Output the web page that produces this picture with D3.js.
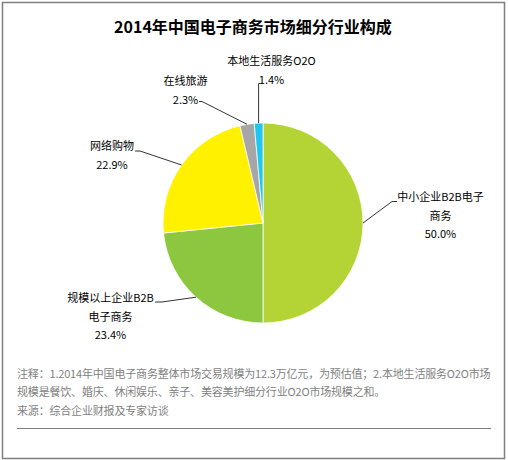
<!DOCTYPE html>
<html>
<head>
<meta charset="utf-8">
<script src="https://cdn.jsdelivr.net/npm/d3@7/dist/d3.min.js"></script>
<style>
  body { margin: 0; background: #fff; }
  svg { display: block; }
  text { font-family: "Noto Sans CJK SC", "Noto Sans", sans-serif; }
</style>
</head>
<body>
<div id="chart"></div>
<script>
// chart data
var categories = ["中小企业B2B电子商务", "规模以上企业B2B电子商务", "网络购物", "在线旅游", "本地生活服务O2O"];
var shares = [50.0, 23.4, 22.9, 2.3, 1.4];
var labelLines = [["中小企业B2B电子", "商务"], ["规模以上企业B2B", "电子商务"], ["网络购物"], ["在线旅游"], ["本地生活服务O2O"]];
var sliceColors = ["#b4d334", "#8dc63f", "#fff100", "#a6a6a6", "#20c5f0"];

var titleText = "2014年中国电子商务市场细分行业构成";
var noteLines = [
    "注释：1.2014年中国电子商务整体市场交易规模为12.3万亿元，为预估值；2.本地生活服务O2O市场",
    "规模是餐饮、婚庆、休闲娱乐、亲子、美容美护细分行业O2O市场规模之和。",
    "来源：综合企业财报及专家访谈"
];

// svg size
var svgWidth = 508;
var svgHeight = 460;

// pie geometry
var cx = 263, cy = 223, radius = 100;

// label placement: text centre x, first baseline, leader elbow + stub end
var labelLayout = [
    { x: 440.5, y: 201, elbowX: 392, stubX: 397, lineY: 201.5 },
    { x: 110.5, y: 302, elbowX: 162, stubX: 155, lineY: 302 },
    { x: 112, y: 150, elbowX: 140, stubX: 135, lineY: 151 },
    { x: 185.5, y: 85, elbowX: 202, stubX: 199, lineY: 101.5 },
    { x: 271.5, y: 65, elbowX: null, stubX: 260, lineY: 83.5 }
];
var lineHeight = 18.5;

var svg = d3.select("#chart")
    .append("svg")
    .attr("width", svgWidth)
    .attr("height", svgHeight);

// frame
svg.append("rect")
    .attr("x", 2.5)
    .attr("y", 2.5)
    .attr("width", 502)
    .attr("height", 456)
    .attr("fill", "#fff")
    .attr("stroke", "#7f7f7f")
    .attr("stroke-width", 1.5);

// title
svg.append("text")
    .attr("x", 253)
    .attr("y", 32.5)
    .attr("text-anchor", "middle")
    .attr("font-size", "16px")
    .attr("font-weight", "bold")
    .attr("fill", "#000")
    .text(titleText);

var pie = d3.pie()
    .sort(null)
    .value(d => d);

var arcs = pie(shares);

var arc = d3.arc()
    .innerRadius(0)
    .outerRadius(radius);

var edgeArc = d3.arc()
    .innerRadius(radius)
    .outerRadius(radius);

var pieGroup = svg.append("g")
    .attr("transform", `translate(${cx}, ${cy})`);

pieGroup.selectAll("path")
    .data(arcs)
    .enter()
    .append("path")
    .attr("d", arc)
    .attr("fill", (d, i) => sliceColors[i])
    .attr("stroke", "#fff")
    .attr("stroke-width", 0.75);

// leader lines + labels
var fmt = d3.format(".1f");

arcs.forEach(function (d, i) {
    var lay = labelLayout[i];
    var p = edgeArc.centroid(d);
    var px = p[0] + cx, py = p[1] + cy;
    var ex = lay.elbowX === null ? px : lay.elbowX;
    var pts = [[px, py], [ex, lay.lineY], [lay.stubX, lay.lineY]];
    svg.append("path")
        .attr("d", d3.line()(pts))
        .attr("fill", "none")
        .attr("stroke", "#333")
        .attr("stroke-width", 1);

    var lines = labelLines[i].concat([fmt(shares[i]) + "%"]);
    var t = svg.append("text")
        .attr("text-anchor", "middle")
        .attr("font-size", "11px")
        .attr("fill", "#000");
    lines.forEach(function (s, k) {
        t.append("tspan")
            .attr("x", lay.x)
            .attr("y", lay.y + k * lineHeight)
            .text(s);
    });
});

// footnote
var notes = svg.append("text")
    .attr("font-size", "11px")
    .attr("letter-spacing", "-0.18px")
    .attr("fill", "#7f7f7f");
noteLines.forEach(function (s, k) {
    notes.append("tspan")
        .attr("x", 17)
        .attr("y", 377.5 + k * 18.5)
        .text(s);
});

svg.append("line")
    .attr("x1", 17)
    .attr("x2", 491)
    .attr("y1", 428.5)
    .attr("y2", 428.5)
    .attr("stroke", "#7f7f7f")
    .attr("stroke-width", 1);
</script>
</body>
</html>
